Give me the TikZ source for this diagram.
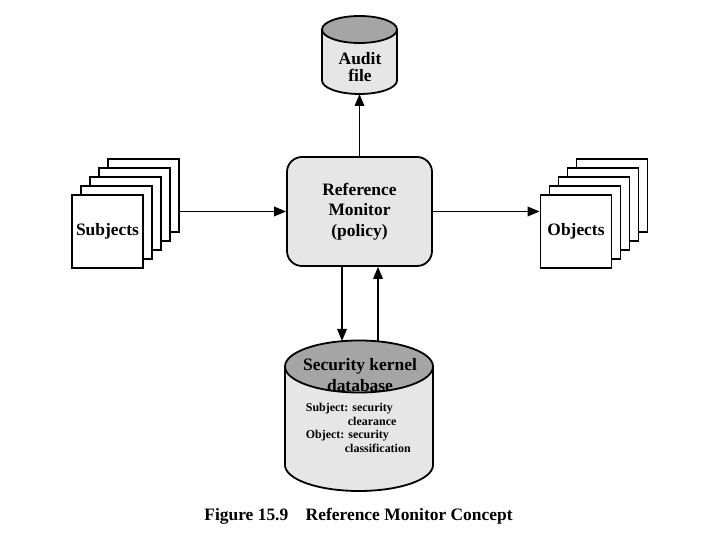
\documentclass[tikz,border=0pt]{standalone}
\usepackage{fontspec}
\setmainfont{Liberation Serif}
\usetikzlibrary{arrows.meta, positioning}
\definecolor{boxgray}{RGB}{230,230,230}
\definecolor{capgray}{RGB}{165,165,165}

% drum: centre x, top y, bottom y, x radius, y radius
\def\drum#1#2#3#4#5{
  \filldraw[fill=boxgray] ({#1-#4},#2) -- ({#1-#4},#3)
    arc[start angle=180, end angle=360, x radius=#4, y radius=#5] -- ({#1+#4},#2);
  \filldraw[fill=capgray] (#1,#2) ellipse[x radius=#4, y radius=#5];
}

\begin{document}
\begin{tikzpicture}[x=1bp, y=1bp, line width=1.8bp,
    >={Triangle[length=12bp, width=9.5bp]},
    font=\bfseries\fontsize{17.5}{20.5}\selectfont,
    page/.style={draw, fill=white, minimum width=71bp, minimum height=73bp, inner sep=0pt},
    small/.style={font=\bfseries\fontsize{12}{13.7}\selectfont}]
  %tikz  Reference monitor
    \useasboundingbox (0,0) rectangle (720,540);
    % audit file and database
    \drum{359.5}{510.5}{459.5}{37.5}{13.5}
    \drum{359}{173.5}{75}{74}{26}
    \coordinate (auditin) at (359.5,446);
    \coordinate (dbin) at (342,199);
    \coordinate (dbout) at (378,199);
    \node[align=center, font=\bfseries\fontsize{17.5}{17}\selectfont] (audit) at (360,473) {Audit\\file};
    \node[align=center, font=\bfseries\fontsize{17.5}{21}\selectfont] (db) at (360,165) {Security kernel\\database};
    \node[small, align=left, anchor=north west, inner sep=0pt] (dbrules) at (305,137.5)
      {Subject: security\\\hspace*{42bp}clearance\\Object: security\\\hspace*{39bp}classification};
    % monitor
    \node[draw, fill=boxgray, rounded corners=15bp, minimum width=145bp, minimum height=109bp,
      align=center] (rm) at (359.5,328.5) {Reference\\Monitor\\(policy)};
    % stacks
    \foreach \i in {4,...,1}{
      \node[page] (subj\i) at ({107.5+9*\i},{308.5+9*\i}) {};
      \node[page] (obj\i) at ({576+9*\i},{308.5+9*\i}) {};
    }
    \node[page] (subj0) at (107.5,308.5) {Subjects};
    \node[page] (obj0) at (576,308.5) {Objects};
    % arrows
    \draw[->] (subj4.east |- rm.west) -- (rm.west);
    \draw[->] (rm.east) -- (rm.east -| obj0.west);
    \draw[->] (rm.north) -- (auditin);
    \draw[->] (rm.south -| dbin) -- (dbin);
    \draw[->] (dbout) -- (dbout |- rm.south);
    \node[anchor=base, font=\bfseries\fontsize{17.5}{20}\selectfont] (caption) at (358.5,19)
      {Figure 15.9\quad Reference Monitor Concept};
  \end{tikzpicture}
\end{document}
